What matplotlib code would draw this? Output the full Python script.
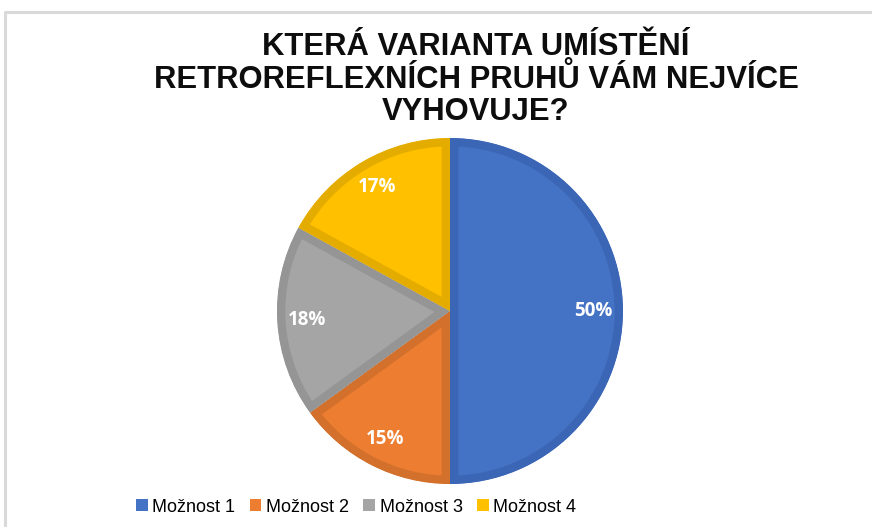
import matplotlib
matplotlib.use("Agg")
import matplotlib.pyplot as plt
from matplotlib.patches import Patch
from matplotlib.lines import Line2D

title_lines = ["KTERÁ VARIANTA UMÍSTĚNÍ",
               "RETROREFLEXNÍCH PRUHŮ VÁM NEJVÍCE",
               "VYHOVUJE?"]
labels = ["Možnost 1", "Možnost 2", "Možnost 3", "Možnost 4"]
values = [50, 15, 18, 17]
colors = ["#4472C4", "#ED7D31", "#A5A5A5", "#FFC000"]
edges = ["#3B66B5", "#D2702C", "#959595", "#E5AC00"]

W, H = 872, 527
fig = plt.figure(figsize=(W / 100, H / 100), dpi=100)
ax = fig.add_axes([0, 0, 1, 1])

wedges, texts, autotexts = ax.pie(
    values, colors=colors, startangle=90, counterclock=False,
    center=(450, H - 311), radius=173, autopct="%1.0f%%", pctdistance=0.83,
    textprops=dict(color="white", fontsize=13.5, fontweight="bold",
                   family=["Open Sans", "DejaVu Sans"]),
    wedgeprops=dict(linewidth=12),
)
# border drawn only on the inner side of each slice
for w, ec in zip(wedges, edges):
    w.set_edgecolor(ec)
    w.set_clip_on(True)
    w.set_clip_path(w)

ax.set_xlim(0, W)
ax.set_ylim(0, H)
ax.set_aspect("equal")
ax.axis("off")

# chart frame (top and left edges only visible)
ax.add_line(Line2D([5, 5, W], [0, H - 12, H - 12], color="#D9D9D9", lw=2.2))

for i, line in enumerate(title_lines):
    fig.text(476 / W, 1 - (47 + 32.5 * i) / H, line, ha="center", va="center",
             fontsize=22.3, fontweight="bold",
             family=["Liberation Sans", "DejaVu Sans"], color="#0D0D0D")

handles = [Patch(facecolor=c, edgecolor="none") for c in colors]
fig.legend(handles, labels, loc="center left",
           bbox_to_anchor=(136 / W, 1 - 507 / H),
           ncol=4, frameon=False, handlelength=0.65, handleheight=0.65,
           handletextpad=0.25, columnspacing=0.8, borderpad=0, borderaxespad=0,
           prop=dict(family=["Liberation Sans", "DejaVu Sans"], size=13))

fig.savefig("out.png", dpi=100)
